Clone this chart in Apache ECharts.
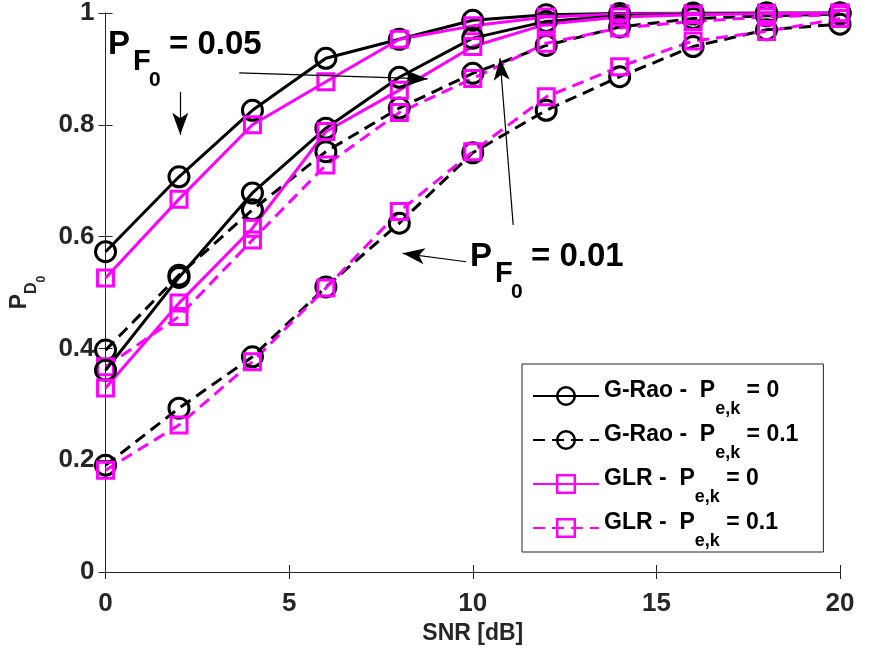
<!DOCTYPE html>
<html>
<head>
<meta charset="utf-8">
<script src="https://cdn.jsdelivr.net/npm/echarts@6/dist/echarts.min.js"></script>
<style>
  html, body { margin: 0; padding: 0; background: #fff; }
  #chart { width: 875px; height: 657px; }
</style>
</head>
<body>
<div id="chart"></div>
<script>
// SNR values (dB)
const snr = [0, 2, 4, 6, 8, 10, 12, 14, 16, 18, 20];

// P_F0 = 0.05
const raoPe0Pf05 = [0.573, 0.707, 0.826, 0.919, 0.953, 0.987, 0.997, 0.999, 1.0, 1.0, 1.0];
const glrPe0Pf05 = [0.526, 0.667, 0.800, 0.877, 0.953, 0.977, 0.993, 0.998, 0.999, 1.0, 1.0];
const raoPe01Pf05 = [0.397, 0.531, 0.648, 0.752, 0.830, 0.892, 0.942, 0.975, 0.990, 0.995, 0.998];
const glrPe01Pf05 = [0.367, 0.457, 0.594, 0.728, 0.822, 0.883, 0.946, 0.973, 0.985, 0.993, 0.997];

// P_F0 = 0.01
const raoPe0Pf01 = [0.361, 0.527, 0.678, 0.794, 0.885, 0.955, 0.985, 0.995, 0.998, 1.0, 1.0];
const glrPe0Pf01 = [0.329, 0.481, 0.615, 0.788, 0.862, 0.940, 0.980, 0.993, 0.997, 0.999, 1.0];
const raoPe01Pf01 = [0.191, 0.293, 0.385, 0.510, 0.624, 0.750, 0.826, 0.886, 0.940, 0.970, 0.980];
const glrPe01Pf01 = [0.182, 0.263, 0.376, 0.508, 0.645, 0.752, 0.850, 0.904, 0.950, 0.967, 0.990];

const xTicks = [0, 5, 10, 15, 20];
const yTicks = [0, 0.2, 0.4, 0.6, 0.8, 1];

const legendNames = ["G-Rao Pe0", "G-Rao Pe01", "GLR Pe0", "GLR Pe01"];
const legendRich = {
  "G-Rao Pe0": "{t|G-Rao -  P}{s|e,k}{t| = 0}",
  "G-Rao Pe01": "{t|G-Rao -  P}{s|e,k}{t| = 0.1}",
  "GLR Pe0": "{t|GLR -  P}{s|e,k}{t| = 0}",
  "GLR Pe01": "{t|GLR -  P}{s|e,k}{t| = 0.1}",
};

const FONT = "Liberation Sans, Arial, Helvetica, sans-serif";
const MAGENTA = "#ff00ff";

const toPoints = (arr) => snr.map((x, i) => [x, arr[i]]);

const makeSeries = (name, arr, color, symbol, dashed) => ({
  name: name,
  type: "line",
  data: toPoints(arr),
  symbol: symbol,
  symbolSize: symbol === "circle" ? 20 : 16,
  lineStyle: { color: color, width: 3, type: dashed ? [12, 7] : "solid" },
  itemStyle: { color: "transparent", borderColor: color, borderWidth: 3 },
  emphasis: { disabled: true },
  animation: false,
});

// arrows of the annotations, in data coordinates
const arrows = [
  [[2.035, 0.859], [2.035, 0.782]],
  [[3.64, 0.893], [8.77, 0.882]],
  [[9.82, 0.555], [8.09, 0.570]],
  [[11.1, 0.621], [10.74, 0.919]],
];

const series = [
  makeSeries("G-Rao Pe0", raoPe0Pf05, "#000", "circle", false),
  makeSeries("G-Rao Pe01", raoPe01Pf05, "#000", "circle", true),
  makeSeries("GLR Pe0", glrPe0Pf05, MAGENTA, "rect", false),
  makeSeries("GLR Pe01", glrPe01Pf05, MAGENTA, "rect", true),
  makeSeries("G-Rao Pe0", raoPe0Pf01, "#000", "circle", false),
  makeSeries("G-Rao Pe01", raoPe01Pf01, "#000", "circle", true),
  makeSeries("GLR Pe0", glrPe0Pf01, MAGENTA, "rect", false),
  makeSeries("GLR Pe01", glrPe01Pf01, MAGENTA, "rect", true),
];

series[0].markLine = {
  silent: true,
  animation: false,
  label: { show: false },
  lineStyle: { color: "#000", width: 1.2, type: "solid" },
  data: arrows.map((a) => [
    { coord: a[0], symbol: "none" },
    { coord: a[1], symbol: "arrow", symbolSize: [12, 22] },
  ]),
};

// annotation texts: P_F0 = ...
const annot = (x, y, value) => [
  { type: "text", x: x, y: y, style: { text: "P", fontSize: 33, fontWeight: "bold", fontFamily: FONT, fill: "#000", verticalAlign: "middle" } },
  { type: "text", x: x + 25, y: y + 17, style: { text: "F", fontSize: 29, fontWeight: "bold", fontFamily: FONT, fill: "#000", verticalAlign: "middle" } },
  { type: "text", x: x + 41, y: y + 35, style: { text: "0", fontSize: 21, fontWeight: "bold", fontFamily: FONT, fill: "#000", verticalAlign: "middle" } },
  { type: "text", x: x + 61, y: y, style: { text: "= " + value, fontSize: 33, fontWeight: "bold", fontFamily: FONT, fill: "#000", verticalAlign: "middle" } },
];

const myChart = echarts.init(document.getElementById("chart"), null, { renderer: "canvas" });

const axisLine = { show: true, lineStyle: { color: "#262626", width: 1 } };
const tick = { show: true, inside: true, length: 7, lineStyle: { color: "#262626", width: 1 } };

const option = {
  backgroundColor: "#fff",
  animation: false,
  grid: { left: 103, right: 35, top: 13, bottom: 85, show: false },
  xAxis: [
    {
      type: "value", min: 0, max: 20, interval: 5, position: "bottom",
      axisLine: axisLine, axisTick: tick, splitLine: { show: false },
      axisLabel: {
        margin: 19, fontSize: 26, fontWeight: "bold", fontFamily: FONT, color: "#262626",
        formatter: (v) => (xTicks.indexOf(v) >= 0 ? String(v) : ""),
      },
      name: "SNR [dB]", nameLocation: "middle", nameGap: 50,
      nameTextStyle: { fontSize: 23, fontWeight: "bold", fontFamily: FONT, color: "#262626" },
    },
    {
      type: "value", min: 0, max: 20, interval: 5, position: "top",
      axisLine: axisLine, axisTick: tick, axisLabel: { show: false }, splitLine: { show: false },
    },
  ],
  yAxis: [
    {
      type: "value", min: 0, max: 1, interval: 0.2, position: "left",
      axisLine: axisLine, axisTick: tick, splitLine: { show: false },
      axisLabel: {
        margin: 11, fontSize: 26, fontWeight: "bold", fontFamily: FONT, color: "#262626",
        formatter: (v) => {
          const t = yTicks.find((y) => Math.abs(y - v) < 1e-9);
          return t === undefined ? "" : String(t);
        },
      },
      name: "{p|P}{d|D}{z|0}", nameLocation: "middle", nameGap: 54, nameRotate: 90,
      nameTextStyle: {
        fontFamily: FONT, fontWeight: "bold", color: "#262626",
        rich: {
          p: { fontSize: 23, fontWeight: "bold", fontFamily: FONT, color: "#262626" },
          d: { fontSize: 16, fontWeight: "bold", fontFamily: FONT, color: "#262626", padding: [24, 0, 0, 0] },
          z: { fontSize: 12, fontWeight: "bold", fontFamily: FONT, color: "#262626", padding: [44, 0, 0, 0] },
        },
      },
    },
    {
      type: "value", min: 0, max: 1, interval: 0.2, position: "right",
      axisLine: axisLine, axisTick: tick, axisLabel: { show: false }, splitLine: { show: false },
    },
  ],
  legend: {
    data: legendNames,
    orient: "vertical",
    left: 522,
    top: 364,
    padding: [10, 25, 2, 10],
    itemGap: 0,
    itemWidth: 66,
    itemHeight: 22,
    backgroundColor: "#fff",
    borderColor: "#262626",
    borderWidth: 1,
    borderRadius: 0,
    selectedMode: false,
    itemStyle: { borderWidth: 2.5 },
    formatter: (name) => legendRich[name],
    textStyle: {
      fontFamily: FONT, fontWeight: "bold", color: "#000",
      rich: {
        t: { fontSize: 23, lineHeight: 22, fontWeight: "bold", fontFamily: FONT, color: "#000", padding: [0, 0, 11, 0] },
        s: { fontSize: 18, lineHeight: 18, fontWeight: "bold", fontFamily: FONT, color: "#000", padding: [26, 0, 0, 0] },
      },
    },
  },
  graphic: [...annot(108, 45, "0.05"), ...annot(470, 257, "0.01")],
  series: series,
};

myChart.setOption(option);

window.addEventListener("resize", () => {
  myChart.resize();
});
</script>
</body>
</html>
